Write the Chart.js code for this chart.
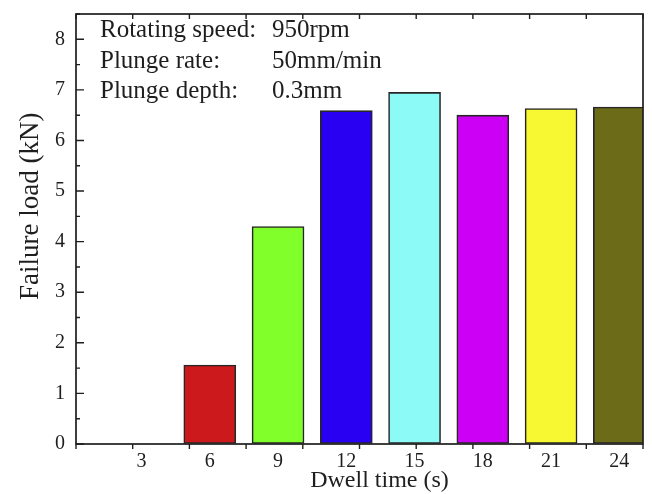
<!DOCTYPE html>
<html lang="en">
<head>
    <meta charset="UTF-8">
    <title>Failure load vs dwell time</title>
    <script src="https://cdn.jsdelivr.net/npm/chart.js"></script>
    <style>
        body { margin: 0; background: #fff; }
        #box { width: 652px; height: 494px; }
    </style>
</head>
<body>
    <div id="box"><canvas id="grafico"></canvas></div>

    <script>
        // dados
        const dwellTimes = [3, 6, 9, 12, 15, 18, 21, 24];
        const failureLoads = [null, 1.56, 4.30, 6.59, 6.95, 6.50, 6.63, 6.66];
        const barColors = ['#ffffff', '#cc1a1c', '#80ff2a', '#2a00f2', '#8cfbf8', '#cc00f4', '#f8f832', '#6b6b18'];
        const yTicks = [0, 0.5, 1, 1.5, 2, 2.5, 3, 3.5, 4, 4.5, 5, 5.5, 6, 6.5, 7, 7.5, 8, 8.5];
        const noteLabels = ['Rotating speed:', 'Plunge rate:', 'Plunge depth:'];
        const noteValues = ['950rpm', '50mm/min', '0.3mm'];
        const xTitle = 'Dwell time (s)';
        const yTitle = 'Failure load (kN)';

        const serif = "'Liberation Serif', 'DejaVu Serif', serif";
        const ink = '#1e1e1e';

        // moldura, marcas de escala, títulos dos eixos e texto das condições
        const moldura = {
            id: 'moldura',
            afterDraw(chart) {
                const { ctx, chartArea: a, scales } = chart;
                ctx.save();
                ctx.strokeStyle = ink;
                ctx.lineWidth = 1.7;
                ctx.strokeRect(a.left, a.top, a.right - a.left, a.bottom - a.top);

                ctx.lineWidth = 1.4;
                ctx.beginPath();
                scales.y.ticks.forEach(t => {
                    const py = scales.y.getPixelForValue(t.value);
                    const len = Number.isInteger(t.value) ? 8 : 4;
                    ctx.moveTo(a.left, py);
                    ctx.lineTo(a.left + len, py);
                });
                // marcas do eixo x: 10 divisões iguais, como no original
                const xs = scales.x;
                for (let k = 0; k <= 10; k++) {
                    const px = xs.getPixelForValue(xs.min + k * (xs.max - xs.min) / 10);
                    ctx.moveTo(px, a.bottom);
                    ctx.lineTo(px, a.bottom + 5);
                    ctx.moveTo(px, a.top);
                    ctx.lineTo(px, a.top + 5);
                }
                ctx.stroke();

                ctx.fillStyle = ink;
                ctx.font = '25px ' + serif;
                ctx.textBaseline = 'alphabetic';
                noteLabels.forEach((txt, i) => {
                    const py = a.top + 23 + i * 30.5;
                    ctx.fillText(txt, a.left + 24, py);
                    ctx.fillText(noteValues[i], a.left + 196, py);
                });

                // no original os títulos não ficam centrados na área do gráfico
                ctx.font = '24px ' + serif;
                ctx.textAlign = 'center';
                ctx.fillText(xTitle, (a.left + a.right) / 2 + 20, a.bottom + 43);

                ctx.font = '27px ' + serif;
                ctx.translate(38, scales.y.getPixelForValue(4.7));
                ctx.rotate(-Math.PI / 2);
                ctx.fillText(yTitle, 0, 0);
                ctx.restore();
            }
        };

        new Chart(document.getElementById('grafico'), {
            type: 'bar',
            data: {
                datasets: [{
                    data: dwellTimes.map((t, i) => ({ x: t, y: failureLoads[i] })),
                    backgroundColor: barColors,
                    borderColor: '#262626',
                    borderWidth: 1.6,
                    borderSkipped: false,
                    barThickness: 52
                }]
            },
            options: {
                responsive: true,
                maintainAspectRatio: false,
                animation: false,
                layout: { padding: { top: 14, right: 9, left: 0, bottom: 0 } },
                plugins: { legend: { display: false }, tooltip: { enabled: false } },
                scales: {
                    x: {
                        type: 'linear',
                        offset: false,
                        min: 0.12,
                        max: 25.04,
                        afterBuildTicks: s => { s.ticks = dwellTimes.map(v => ({ value: v })); },
                        afterFit: s => { s.height = 50; s.paddingLeft = 0; s.paddingRight = 0; },
                        grid: { drawOnChartArea: false, drawTicks: false },
                        border: { display: false },
                        ticks: { color: ink, font: { family: serif, size: 20 }, padding: 6, maxRotation: 0 }
                    },
                    y: {
                        min: 0,
                        max: 8.5,
                        afterBuildTicks: s => { s.ticks = yTicks.map(v => ({ value: v })); },
                        afterFit: s => { s.width = 76; s.paddingTop = 0; s.paddingBottom = 0; },
                        grid: { drawOnChartArea: false, drawTicks: false },
                        border: { display: false },
                        ticks: {
                            color: ink,
                            font: { family: serif, size: 20 },
                            padding: 11,
                            autoSkip: false,
                            callback: v => Number.isInteger(v) ? v : ''
                        }
                    }
                }
            },
            plugins: [moldura]
        });
    </script>
</body>
</html>
